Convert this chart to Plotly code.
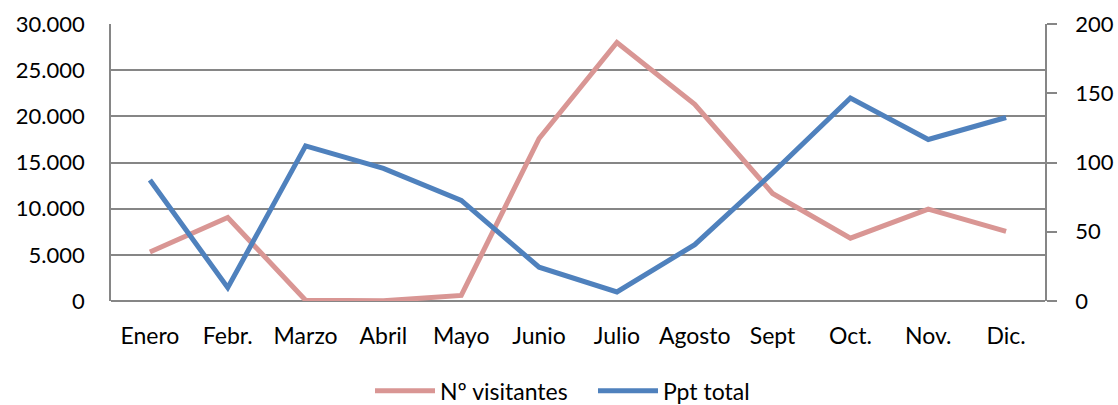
import plotly.graph_objects as go

meses = ["Enero", "Febr.", "Marzo", "Abril", "Mayo", "Junio", "Julio",
         "Agosto", "Sept", "Oct.", "Nov.", "Dic."]
visitantes = [5300, 9050, 80, 20, 600, 17600, 28000, 21300, 11650, 6800, 9950, 7550]
ppt_total = [87.4, 9.6, 112, 95.8, 72.6, 24.4, 6.5, 40.7, 92.5, 146.6, 116.6, 132.5]

FONT = "Lato"
GRID = "#868686"

fig = go.Figure()
fig.add_trace(go.Scatter(x=meses, y=visitantes, name="Nº visitantes", mode="lines",
                         line=dict(color="#D99694", width=5), yaxis="y"))
fig.add_trace(go.Scatter(x=meses, y=ppt_total, name="Ppt total", mode="lines",
                         line=dict(color="#4F81BD", width=5), yaxis="y2"))

fig.update_layout(
    width=1118, height=405,
    margin=dict(l=111, r=73, t=24, b=104, autoexpand=False),
    paper_bgcolor="white", plot_bgcolor="white",
    separators=",.",
    font=dict(family=FONT, size=22, color="#000000"),
    xaxis=dict(type="category", range=[-0.5, 11.5], showgrid=False,
               showline=False, ticks="", ticklabelstandoff=19,
               tickfont=dict(size=23), automargin=False),
    yaxis=dict(range=[0, 30000], dtick=5000, tickformat=",d",
               showgrid=True, gridcolor=GRID, gridwidth=1.5,
               showline=True, linecolor=GRID, linewidth=1.5,
               zeroline=True, zerolinecolor=GRID, zerolinewidth=1.5,
               ticks="", ticklabelstandoff=20, automargin=False),
    yaxis2=dict(range=[0, 200], dtick=50, overlaying="y", side="right",
                showgrid=False, zeroline=False,
                showline=True, linecolor=GRID, linewidth=1.5,
                ticks="outside", ticklen=10, tickcolor=GRID, tickwidth=1.5,
                ticklabelstandoff=14, automargin=False),
    legend=dict(orientation="h", x=0.2773, xanchor="left", y=-0.324, yanchor="middle",
                font=dict(size=23), itemwidth=60, entrywidth=148,
                bgcolor="rgba(0,0,0,0)"),
    showlegend=True,
)

fig.write_html("out.html", config={"displayModeBar": False},
               post_script="document.body.style.margin='0';document.body.style.overflow='hidden';")
